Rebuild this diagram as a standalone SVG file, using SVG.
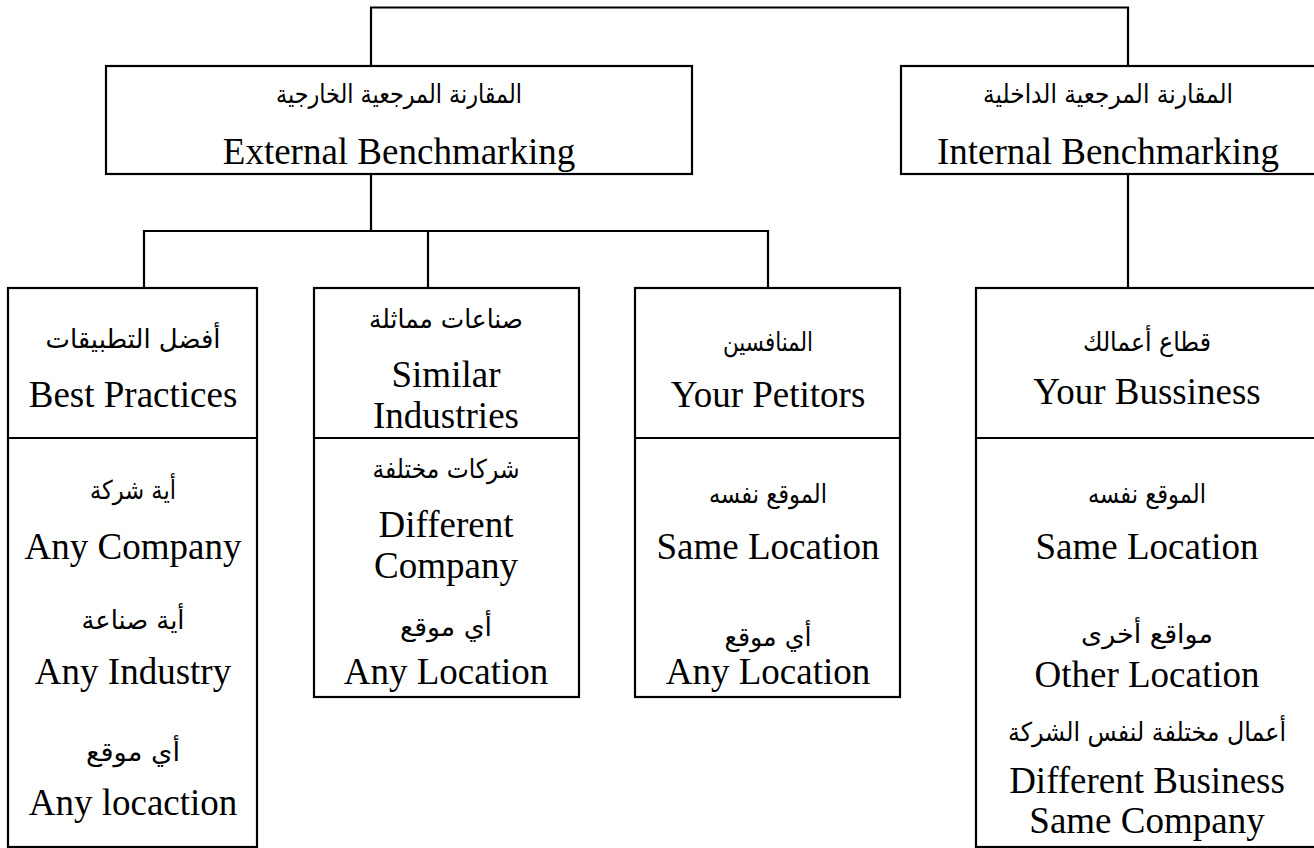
<svg xmlns="http://www.w3.org/2000/svg" width="1314" height="848" viewBox="0 0 1314 848">
<style>
.box{fill:#fff;stroke:#000;stroke-width:2.2}
.ln{fill:none;stroke:#000;stroke-width:2.2}
.en{font-family:"Liberation Serif","Times New Roman",serif;font-size:37px;text-anchor:middle;fill:#000}
.ar{font-family:"DejaVu Sans","Noto Sans",sans-serif;font-size:26px;text-anchor:middle;fill:#000}
</style>
<rect width="1314" height="848" fill="#fff"/>
<g id="connectors">
<polyline class="ln" points="371,66 371,7.5 1128,7.5 1128,66"/>
<line class="ln" x1="371" y1="174" x2="371" y2="231"/>
<polyline class="ln" points="144,288 144,231 768,231 768,288"/>
<line class="ln" x1="428" y1="231" x2="428" y2="288"/>
<line class="ln" x1="1128" y1="174" x2="1128" y2="288"/>
</g>
<g id="external">
<rect class="box" x="106" y="66" width="586" height="108"/>
<text class="ar" x="399" y="103" textLength="246" lengthAdjust="spacingAndGlyphs">المقارنة المرجعية الخارجية</text>
<text class="en" x="399" y="164">External Benchmarking</text>
</g>
<g id="internal">
<rect class="box" x="901" y="66" width="416" height="108"/>
<text class="ar" x="1108" y="103" textLength="250" lengthAdjust="spacingAndGlyphs">المقارنة المرجعية الداخلية</text>
<text class="en" x="1108" y="164">Internal Benchmarking</text>
</g>
<g id="best-practices">
<rect class="box" x="8" y="288" width="249" height="559"/>
<line class="ln" x1="8" y1="438" x2="257" y2="438"/>
<text class="ar" x="133" y="348" textLength="175" lengthAdjust="spacingAndGlyphs">أفضل التطبيقات</text>
<text class="en" x="133" y="407">Best Practices</text>
<text class="ar" x="133" y="499" textLength="86" lengthAdjust="spacingAndGlyphs">أية شركة</text>
<text class="en" x="133" y="559">Any Company</text>
<text class="ar" x="133" y="629" textLength="103" lengthAdjust="spacingAndGlyphs">أية صناعة</text>
<text class="en" x="133" y="684">Any Industry</text>
<text class="ar" x="133" y="761" textLength="94" lengthAdjust="spacingAndGlyphs">أي موقع</text>
<text class="en" x="133" y="815">Any locaction</text>
</g>
<g id="similar-industries">
<rect class="box" x="314" y="288" width="265" height="409"/>
<line class="ln" x1="314" y1="438" x2="579" y2="438"/>
<text class="ar" x="446" y="328" textLength="154" lengthAdjust="spacingAndGlyphs">صناعات مماثلة</text>
<text class="en" x="446" y="387">Similar</text>
<text class="en" x="446" y="428">Industries</text>
<text class="ar" x="446" y="478" textLength="147" lengthAdjust="spacingAndGlyphs">شركات مختلفة</text>
<text class="en" x="446" y="537">Different</text>
<text class="en" x="446" y="578">Company</text>
<text class="ar" x="446" y="636" textLength="92" lengthAdjust="spacingAndGlyphs">أي موقع</text>
<text class="en" x="446" y="684">Any Location</text>
</g>
<g id="your-petitors">
<rect class="box" x="635" y="288" width="265" height="409"/>
<line class="ln" x1="635" y1="438" x2="900" y2="438"/>
<text class="ar" x="768" y="351" textLength="90" lengthAdjust="spacingAndGlyphs">المنافسين</text>
<text class="en" x="768" y="407">Your Petitors</text>
<text class="ar" x="768" y="503" textLength="118" lengthAdjust="spacingAndGlyphs">الموقع نفسه</text>
<text class="en" x="768" y="559">Same Location</text>
<text class="ar" x="768" y="646" textLength="87" lengthAdjust="spacingAndGlyphs">أي موقع</text>
<text class="en" x="768" y="684">Any Location</text>
</g>
<g id="your-business">
<rect class="box" x="976" y="288" width="341" height="559"/>
<line class="ln" x1="976" y1="438" x2="1317" y2="438"/>
<text class="ar" x="1147" y="351" textLength="128" lengthAdjust="spacingAndGlyphs">قطاع أعمالك</text>
<text class="en" x="1147" y="404">Your Bussiness</text>
<text class="ar" x="1147" y="503" textLength="118" lengthAdjust="spacingAndGlyphs">الموقع نفسه</text>
<text class="en" x="1147" y="559">Same Location</text>
<text class="ar" x="1147" y="643" textLength="132" lengthAdjust="spacingAndGlyphs">مواقع أخرى</text>
<text class="en" x="1147" y="687">Other Location</text>
<text class="ar" x="1147" y="741" textLength="278" lengthAdjust="spacingAndGlyphs">أعمال مختلفة لنفس الشركة</text>
<text class="en" x="1147" y="793">Different Business</text>
<text class="en" x="1147" y="833">Same Company</text>
</g>
</svg>
